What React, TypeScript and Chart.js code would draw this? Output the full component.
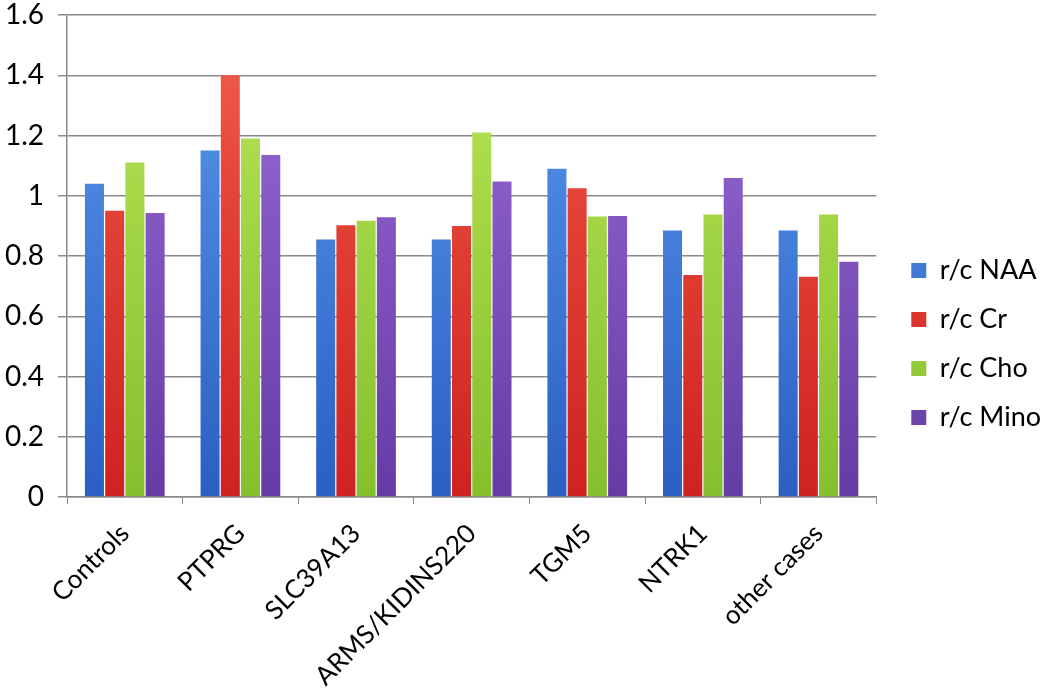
import React, { useEffect, useRef } from "react";
import { Chart, registerables } from "chart.js";

Chart.register(...registerables);

const categories = ["Controls", "PTPRG", "SLC39A13", "ARMS/KIDINS220", "TGM5", "NTRK1", "other cases"];
const seriesNames = ["r/c NAA", "r/c Cr", "r/c Cho", "r/c Mino"];
const naaValues = [1.04, 1.15, 0.855, 0.855, 1.09, 0.885, 0.885];
const crValues = [0.95, 1.4, 0.902, 0.9, 1.025, 0.737, 0.731];
const choValues = [1.11, 1.19, 0.917, 1.21, 0.931, 0.938, 0.938];
const minoValues = [0.943, 1.135, 0.929, 1.047, 0.933, 1.059, 0.781];
const yTicks = [0, 0.2, 0.4, 0.6, 0.8, 1, 1.2, 1.4, 1.6];

const palette = [
  { top: "#5d9cf0", bottom: "#2b5fc2", solid: "#4682dc" },
  { top: "#f2624f", bottom: "#cf2222", solid: "#e24236" },
  { top: "#bde85c", bottom: "#86bf2e", solid: "#a4d646" },
  { top: "#a07adc", bottom: "#643ca4", solid: "#8558c2" },
];

function gradientFor(idx: number) {
  return (context: any) => {
    const chart = context.chart;
    const area = chart.chartArea;
    const p = palette[idx];
    if (!area) return p.solid;
    const g = chart.ctx.createLinearGradient(0, area.bottom, 0, area.top);
    g.addColorStop(0, p.bottom);
    g.addColorStop(0.6, p.solid);
    g.addColorStop(1, p.top);
    return g;
  };
}

const legendShift = {
  id: "legendShift",
  afterLayout(chart: any) {
    const lg = chart.legend;
    if (lg) {
      lg.left += 13;
      lg.right += 13;
    }
  },
};

export default function App() {
  const canvasRef = useRef<HTMLCanvasElement | null>(null);

  useEffect(() => {
    document.body.style.margin = "0";
    const canvas = canvasRef.current;
    if (!canvas) return;
    const values = [naaValues, crValues, choValues, minoValues];
    const gridColor = "#8a8a8a";
    const chart = new Chart(canvas, {
      type: "bar",
      data: {
        labels: categories,
        datasets: seriesNames.map((name, i) => ({
          label: name,
          data: values[i],
          backgroundColor: gradientFor(i),
          borderWidth: 0,
          categoryPercentage: 0.7,
          barPercentage: 0.94,
        })),
      },
      plugins: [legendShift],
      options: {
        animation: false,
        responsive: true,
        maintainAspectRatio: false,
        layout: { padding: { top: 0, left: 0, right: 12, bottom: 0 } },
        plugins: {
          tooltip: { enabled: false },
          legend: {
            position: "right",
            labels: {
              boxWidth: 15,
              boxHeight: 15,
              padding: 22,
              color: "#000",
              font: { family: "Lato", size: 27 },
            },
          },
        },
        scales: {
          x: {
            afterFit: (scale: any) => {
              scale.height = 191;
            },
            grid: {
              display: true,
              drawOnChartArea: false,
              drawTicks: true,
              tickLength: 7,
              color: gridColor,
              offset: true,
            },
            border: { display: true, color: gridColor, width: 1.5 },
            ticks: {
              color: "#000",
              font: { family: "Lato", size: 26 },
              minRotation: 45,
              maxRotation: 45,
              padding: 14,
              autoSkip: false,
            },
          },
          y: {
            min: 0,
            max: 1.6,
            afterFit: (scale: any) => {
              scale.width = 67;
              scale.paddingTop = 15;
              scale.paddingBottom = 0;
            },
            afterBuildTicks: (scale: any) => {
              scale.ticks = yTicks.map((v) => ({ value: v }));
            },
            grid: {
              color: gridColor,
              lineWidth: 1.5,
              tickLength: 9,
            },
            border: { display: true, color: gridColor, width: 1.5 },
            ticks: {
              color: "#000",
              font: { family: "Lato", size: 28 },
              padding: 14,
              callback: (v: any) => String(Number(Number(v).toFixed(1))),
            },
          },
        },
      },
    });
    return () => chart.destroy();
  }, []);

  return (
    <div style={{ position: "fixed", left: 0, top: 0, width: 1050, height: 688, background: "#fff" }}>
      <canvas ref={canvasRef} />
    </div>
  );
}
